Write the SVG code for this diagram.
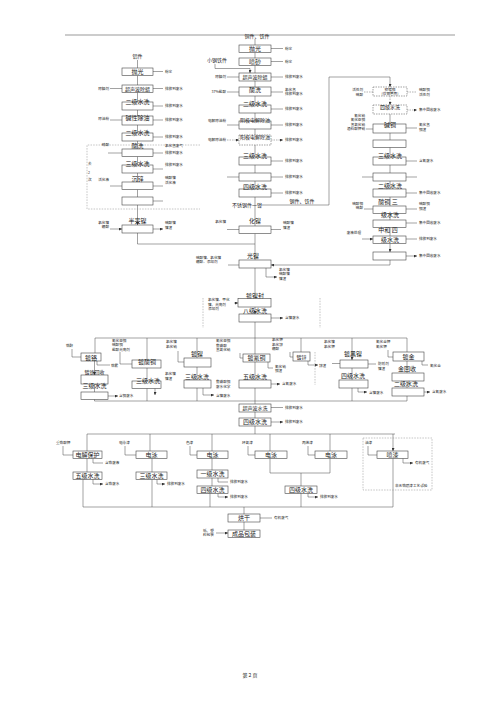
<svg xmlns="http://www.w3.org/2000/svg" width="500" height="707" viewBox="0 0 500 707">
<style>
.b{fill:#fff;stroke:#444;stroke-width:0.6}
.bd{fill:#fff;stroke:#666;stroke-width:0.6;stroke-dasharray:1.5 1}
.l{fill:none;stroke:#444;stroke-width:0.5}
.la{fill:none;stroke:#444;stroke-width:0.5;marker-end:url(#a)}
.da{fill:none;stroke:#666;stroke-width:0.5;stroke-dasharray:1.5 1;marker-end:url(#a)}
.dl{fill:none;stroke:#888;stroke-width:0.5;stroke-dasharray:1.5 1.2}
text{font-family:"Noto Sans CJK SC","Noto Sans",sans-serif;fill:#222}
.t{font-size:6px;text-anchor:middle}
.t5{font-size:5px;text-anchor:middle}
.s{font-size:3.6px}
.sr{font-size:3.6px;text-anchor:end}
</style>
<defs><marker id="a" viewBox="0 0 4 4" markerWidth="3" markerHeight="3" refX="4" refY="2" orient="auto" markerUnits="userSpaceOnUse"><path d="M0,0L4,2L0,4z" fill="#333"/></marker></defs>
<rect width="500" height="707" fill="#fff"/>
<line x1="65" y1="35" x2="455" y2="35" stroke="#999" stroke-width="1.2"/>

<g id="connectors">
<path class="la" d="M137.5,60V68M137.5,75.5V85M137.5,92.5V102M137.5,110V116M137.5,125V133M137.5,141V149M137.5,156.5V165M137.5,173V182M137.5,189.5V197M137.5,205V225"/>
<path class="l" d="M137.5,233V244H255"/>
<path class="la" d="M110,88.5H122M110,120H122M108,153H122M110,186H122M110,229H122"/>
<path class="la" d="M153,71.5H163M153,88.5H163M153,106H163M153,120H163M153,137H163M153,153H163M153,169H163M153,186H163M153,201H163M153,229H163"/>
<path class="la" d="M255,39V45M255,52.5V58M255,65.5V73M255,81V87M255,96V105M255,113V121M255,129V135M255,145V157M255,165V173M255,181V189M255,197V226M255,233.5V260M255,268V298M255,307V314"/>
<path class="l" d="M255,322V338"/>
<path class="la" d="M215,64V68.5H250V73"/>
<path class="la" d="M227,77H239M227,92H239M227,125H239M227,177H239M227,229.5H239M228,265H239M234,303H238"/>
<path class="da" d="M227,140H239"/>
<path class="la" d="M271,48.5H283M271,61.5H283M271,77H283M271,92H283M271,109H283M271,125H283M271,161H283M271,177H283M271,193H283M271,229.5H281M271,318H283"/>
<path class="da" d="M271,140H283"/>
<path class="la" d="M266,268V277H277"/>
<path class="la" d="M262,205H329V77H390V87"/>
<path class="la" d="M390,114V124M390,133V140M390,147V157M390,165V173M390,181V189M390,197V206M390,213V220M390,227V236M390,243V252"/>
<path class="da" d="M390,96V105"/>
<path class="la" d="M390,260V265H271"/>
<path class="da" d="M364,92H373M407,92H417M407,110H417"/>
<path class="la" d="M366,129H373M362,177H373M364,209H373M362,239H373"/>
<path class="la" d="M406,128H417M406,161H417M406,177H417M406,193H417M406,209H417M406,223H417M406,239H417M406,256H417"/>
<path class="l" d="M95,338H407"/>
<path class="la" d="M95,338V353M147,338V360M197,338V358M255,338V354M301,338V352M407,338V352M352,338V360"/>
<path class="la" d="M72,349V357H81M97,361V365H110M94.5,384V392M108,396H118"/>
<path class="la" d="M94.5,361V375"/>
<path class="la" d="M120,352V364H132M147,368V381M155,388V395"/>
<path class="la" d="M178,351V362H184M197,367V380M203,388V395H214"/>
<path class="la" d="M240,353V358H243M255,362V380M268,362V368H273M271,384H280"/>
<path class="la" d="M290,352V357H293M308,361V365H318"/>
<path class="la" d="M332,363.5H340M368,364H376M352,368V380M358,388V392H367"/>
<path class="la" d="M388,350V357H393M422,361V365H428M407,361V373M407,381V388M424,392H430"/>
<path class="l" d="M94.5,399V401M147,388V401M197,388V401M255,388V401M352,388V401M407,396V401M94.5,401H407"/>
<path class="dl" d="M203,298V328M320,298V328M315,352V385"/>
<path class="la" d="M255,401V404M255,412V418M271,407.5H283M271,422H283"/>
<path class="l" d="M255,426V434M87,434H395"/>
<path class="la" d="M87,434V451M150,434V451M212,434V451M270,434V451M330,434V451M393,434V451"/>
<path class="la" d="M63,446V455H73M93,458V463H103M87,458V472M93,479V484H103"/>
<path class="la" d="M125,446V455H136M152,458V472M157,479V484H165"/>
<path class="la" d="M190,446V455H197M212,458V470M218,478V482H228M212,478V486M218,493V497H228"/>
<path class="la" d="M248,446V455H255M308,446V455H315M301,473V486M308,493V497H318"/>
<path class="l" d="M270,458V473H330V458"/>
<path class="la" d="M368,446V455H377M403,458V463H413"/>
<path class="l" d="M83,479V507H393V458M152,479V507M210,493V507M301,493V507"/>
<path class="la" d="M244,507V514M260,518H272M244,522V530M216,533H228"/>
<path class="dl" d="M200,145H87V209H200"/>
<rect class="dl" x="363" y="438" width="69" height="52"/>
</g>

<g id="left-column">
<text class="t5" x="137.5" y="58">铝件</text>
<g id="a1"><rect class="b" x="122" y="68" width="31" height="7.5"/><text class="t" x="137.5" y="74">抛光</text></g>
<g id="a2"><rect class="b" x="122" y="85" width="31" height="7.5"/><text class="t5" x="137.5" y="91">超声波除蜡</text></g>
<g id="a3"><rect class="b" x="122" y="102" width="31" height="8"/><text class="t" x="137.5" y="104">二级水洗</text></g>
<g id="a4"><rect class="b" x="122" y="116" width="31" height="9"/><text class="t" x="137.5" y="120">碱性除油</text></g>
<g id="a5"><rect class="b" x="122" y="133" width="31" height="8"/><text class="t" x="137.5" y="135">二级水洗</text></g>
<g id="a6"><text class="t" x="137.5" y="148">酸洗</text><rect class="b" x="122" y="149" width="31" height="7.5"/></g>
<g id="a7"><rect class="b" x="122" y="165" width="31" height="8"/><text class="t" x="137.5" y="165.5">三级水洗</text></g>
<g id="a8"><rect class="b" x="122" y="182" width="31" height="7.5"/><text class="t" x="137.5" y="181">沉锌</text></g>
<g id="a9"><rect class="b" x="122" y="197" width="31" height="8"/></g>
<g id="a10"><text class="t" x="137.5" y="223">半亮镍</text><rect class="b" x="122" y="225" width="31" height="8"/></g>
<text class="s" x="88" y="165">去</text><text class="s" x="88" y="174">2</text><text class="s" x="88" y="181">次</text>
<text class="sr" x="109" y="89.5">除蜡剂</text>
<text class="sr" x="109" y="119.5">除油粉</text>
<text class="sr" x="109" y="146">硝酸</text>
<text class="sr" x="109" y="181">活化液</text>
<text class="sr" x="109" y="223.5">氯化镍</text><text class="sr" x="109" y="228">硼酸</text>
<text class="s" x="165" y="72.7">粉尘</text>
<text class="s" x="165" y="89.7">排放到废水</text>
<text class="s" x="165" y="107.2">排放到废水</text>
<text class="s" x="165" y="121.2">排放到废水</text>
<text class="s" x="165" y="138.2">排放到废水</text>
<text class="s" x="165" y="146.5">氯化氢废气</text>
<text class="s" x="165" y="154.2">排放到废水</text>
<text class="s" x="165" y="166">排放到废水</text>
<text class="s" x="165" y="179">硫酸镍</text><text class="s" x="165" y="184">活化液</text>
<text class="s" x="165" y="224">硫酸镍</text><text class="s" x="165" y="228.5">镍渣</text>
</g>

<g id="main-column">
<text class="t5" x="257" y="38">铜件、铁件</text>
<g id="m1"><rect class="b" x="239" y="45" width="32" height="7.5"/><text class="t" x="255" y="51">抛光</text></g>
<g id="m2"><rect class="b" x="239" y="58" width="32" height="7.5"/><text class="t" x="255" y="64">喷砂</text></g>
<text class="t5" x="217" y="62">小钢铁件</text>
<g id="m3"><rect class="b" x="239" y="73" width="32" height="8"/><text class="t5" x="255" y="79.3">超声波除蜡</text></g>
<g id="m4"><rect class="b" x="239" y="87" width="32" height="9"/><text class="t" x="255" y="91.5">酸洗</text></g>
<g id="m5"><rect class="b" x="239" y="105" width="32" height="8"/><text class="t" x="255" y="106">二级水洗</text></g>
<g id="m6"><rect class="b" x="239" y="121" width="32" height="8"/><text class="t5" x="255" y="122">阴极电解除油</text></g>
<g id="m7"><rect class="bd" x="239" y="135" width="32" height="10"/><text class="t5" x="255" y="138.5">阳极电解除油</text></g>
<g id="m8"><rect class="b" x="239" y="157" width="32" height="8"/><text class="t" x="255" y="157.5">三级水洗</text></g>
<g id="m9"><rect class="b" x="239" y="173" width="32" height="8"/></g>
<g id="m10"><rect class="b" x="239" y="189" width="32" height="8"/><text class="t" x="255" y="188.5">四级水洗</text></g>
<text class="t5" x="247" y="207">不锈钢件一镍</text>
<text class="t5" x="302" y="203">钢件、铁件</text>
<g id="m11"><text class="t" x="255" y="223">化镍</text><rect class="b" x="239" y="226" width="32" height="7.5"/></g>
<g id="m12"><text class="t" x="253" y="257.5">光镍</text><rect class="b" x="239" y="260" width="32" height="8"/></g>
<text class="sr" x="226" y="223">氯化镍</text>
<text class="s" x="196" y="258.5">硫酸镍、氯化镍</text><text class="s" x="196" y="263">硼酸、添加剂</text>
<text class="sr" x="226" y="78.2">除蜡剂</text>
<text class="sr" x="226" y="93.2">37%盐酸</text>
<text class="sr" x="226" y="122">电解除油粉</text>
<text class="sr" x="226" y="141.2">电解除油粉</text>
<text class="s" x="285" y="49.7">粉尘</text>
<text class="s" x="285" y="62.7">粉尘</text>
<text class="s" x="285" y="78.2">排放到废水</text>
<text class="s" x="285" y="90.5">氯化氢</text><text class="s" x="285" y="95">排放到废水</text>
<text class="s" x="285" y="110.2">排放到废水</text>
<text class="s" x="285" y="126.2">排放到废水</text>
<text class="s" x="285" y="141.2">排放到废水</text>
<text class="s" x="285" y="162.2">排放到废水</text>
<text class="s" x="285" y="178.2">排放到废水</text>
<text class="s" x="285" y="194.2">排放到废水</text>
<text class="s" x="283" y="224">硫酸镍</text><text class="s" x="283" y="228.5">镍渣</text>
<text class="s" x="279" y="270.5">氯化镍</text><text class="s" x="279" y="275">硫酸镍</text><text class="s" x="279" y="279.5">镍渣</text>
<g id="m13"><text class="t" x="255" y="298">镀镍封</text><rect class="b" x="238" y="298.5" width="33" height="8.5"/></g>
<g id="m14"><text class="t" x="255" y="312.5">八级水洗</text><rect class="b" x="239" y="314" width="32" height="8"/></g>
<text class="s" x="208" y="301">氯化镍、甲化</text><text class="s" x="208" y="305.5">镍、光亮剂</text><text class="s" x="208" y="310">添加剂</text>
<text class="s" x="285" y="319.2">含镍废水</text>
</g>

<g id="right-column">
<g id="r1"><rect class="bd" x="373" y="87" width="34" height="9"/><text class="s" x="390" y="91" text-anchor="middle">预镀铜</text><text class="s" x="390" y="95.3" text-anchor="middle">(仅钢管用)</text></g>
<g id="r2"><rect class="bd" x="373" y="105" width="34" height="9"/><text class="t5" x="390" y="109">四级水洗</text></g>
<g id="r3"><rect class="b" x="373" y="124" width="33" height="9"/><text class="t" x="390" y="127">碱铜</text></g>
<g id="r4"><rect class="b" x="373" y="140" width="33" height="7.5"/></g>
<g id="r5"><rect class="b" x="373" y="157" width="33" height="8"/><text class="t" x="390" y="157.5">三级水洗</text></g>
<g id="r6"><rect class="b" x="373" y="173" width="33" height="8"/></g>
<g id="r7"><rect class="b" x="373" y="189" width="33" height="8"/><text class="t" x="390" y="188">二级水洗</text></g>
<g id="r8"><rect class="b" x="373" y="206" width="33" height="7.5"/><text class="t" x="388" y="204">酸铜 三</text></g>
<g id="r9"><rect class="b" x="373" y="220" width="33" height="7.5"/><text class="t" x="390" y="217">级水洗</text></g>
<g id="r10"><rect class="b" x="373" y="236" width="33" height="7.5"/><text class="t" x="388" y="232">中和 四</text></g>
<g id="r11"><rect class="b" x="373" y="252" width="33" height="8"/><text class="t" x="390" y="242">级水洗</text></g>
<text class="sr" x="363" y="91">活性剂</text><text class="sr" x="363" y="96">硫酸</text>
<text class="sr" x="365" y="116.5">氰化钠</text><text class="sr" x="365" y="121">氰化亚铜</text><text class="sr" x="365" y="125.5">氢氧化钠</text><text class="sr" x="365" y="130">酒石酸钾钠</text>
<text class="sr" x="363" y="204.5">硫酸铜</text><text class="sr" x="363" y="209">硫酸</text>
<text class="sr" x="361" y="234">废液处理</text>
<text class="s" x="419" y="90.5">硫酸铜</text><text class="s" x="419" y="95.5">活性剂</text>
<text class="s" x="419" y="111.2">集中回收废水</text>
<text class="s" x="419" y="126">氰化氢</text><text class="s" x="419" y="130.5">铜渣</text>
<text class="s" x="419" y="162.2">含氰废水</text>
<text class="s" x="419" y="194.2">集中回收废水</text>
<text class="s" x="419" y="205">硫酸铜</text><text class="s" x="419" y="210">铜渣</text>
<text class="s" x="419" y="224.2">集中回收废水</text>
<text class="s" x="419" y="240.2">排放到废水</text>
<text class="s" x="419" y="257.2">集中回收废水</text>
</g>

<g id="plating-row">
<g id="p1"><rect class="b" x="81" y="353" width="20" height="8"/><text class="t" x="91" y="359.5">镀铬</text></g>
<text class="s" x="66" y="347">铬酐</text>
<text class="s" x="111" y="366.5">铬雾</text>
<g id="p1b"><text class="t5" x="94.5" y="373.5">镀铬回收</text><rect class="b" x="81" y="375" width="27" height="9"/></g>
<g id="p1c"><text class="t" x="94.5" y="388">三级水洗</text><rect class="b" x="81" y="392" width="27" height="7.5"/></g>
<g id="p2"><text class="t" x="147" y="364">镀酸铜</text><rect class="b" x="132" y="360" width="29" height="8" fill-opacity="0"/></g>
<g id="p2b"><rect class="b" x="132" y="381" width="29" height="7.5"/><text class="t" x="148" y="383">三级水洗</text></g>
<text class="s" x="112" y="342">氰化亚铜</text><text class="s" x="112" y="346">硫酸铜</text><text class="s" x="112" y="350.5">盐酸光亮剂</text>
<text class="s" x="119" y="397">含铜废水</text>
<g id="p3"><text class="t" x="197" y="356">镀镍</text><rect class="b" x="184" y="358" width="27" height="9"/></g>
<g id="p3b"><text class="t" x="197" y="378.5">三级水洗</text><rect class="b" x="184" y="380" width="27" height="8"/></g>
<text class="s" x="166" y="343">氯化镍</text><text class="s" x="166" y="348">氯化钠</text>
<text class="s" x="165" y="375">氯化镍</text><text class="s" x="165" y="380">镍渣</text>
<text class="s" x="216" y="383">焦磷酸铜</text><text class="s" x="216" y="387.5">废水化学</text><text class="s" x="216" y="396.5">含镍废水</text>
<g id="p4"><rect class="b" x="243" y="354" width="27" height="8"/><text class="t" x="256.5" y="360.3">镀氰铜</text></g>
<text class="s" x="216" y="342">氰化亚铜</text><text class="s" x="216" y="346.5">焦磷酸</text><text class="s" x="216" y="351">氢氧化钠</text>
<text class="s" x="275" y="367.5">氰化钠</text><text class="s" x="275" y="372">铜渣</text>
<g id="p4b"><text class="t" x="255" y="378.5">五级水洗</text><rect class="b" x="239" y="380" width="32" height="8"/></g>
<text class="s" x="282" y="385.2">含氰废水</text>
<g id="p5"><rect class="b" x="293" y="352" width="17" height="9"/><text class="t5" x="301.5" y="358.5">镀锌</text></g>
<text class="s" x="272" y="341">氯化钾</text><text class="s" x="272" y="345.5">氯化锌</text><text class="s" x="272" y="350">硼酸</text>
<text class="s" x="319" y="366.5">锌渣</text>
<g id="p6"><text class="t" x="353" y="356">镀黑镍</text><rect class="b" x="340" y="360" width="28" height="8"/></g>
<text class="s" x="324" y="343">氯化镍</text><text class="s" x="324" y="348">氯化钾</text>
<text class="s" x="378" y="365">防锈剂</text><text class="s" x="378" y="370">镍渣</text>
<g id="p6b"><text class="t" x="353" y="378">四级水洗</text><rect class="b" x="339" y="380" width="29" height="8"/></g>
<text class="s" x="369" y="393.5">含镍废水</text>
<g id="p7"><rect class="b" x="393" y="352" width="31" height="9"/><text class="t" x="408.5" y="358.8">镀金</text></g>
<text class="s" x="376" y="343">氰化金钾</text><text class="s" x="376" y="348">氰化钾</text>
<text class="s" x="430" y="366.5">氰化金</text>
<g id="p7b"><text class="t" x="407" y="371">金回收</text><rect class="b" x="392" y="373" width="32" height="8"/></g>
<g id="p7c"><text class="t" x="406" y="385.5">二级水洗</text><rect class="b" x="392" y="388" width="32" height="8"/></g>
<text class="s" x="432" y="393.2">含氰废水</text>
</g>

<g id="finish-part">
<g id="f1"><rect class="b" x="239" y="404" width="32" height="8"/><text class="t5" x="255" y="410">超声波水洗</text></g>
<g id="f2"><rect class="b" x="239" y="418" width="32" height="8"/><text class="t" x="255" y="424.3">四级水洗</text></g>
<text class="s" x="285" y="408.7">排放到废水</text>
<text class="s" x="285" y="423.2">排放到废水</text>
<g id="f3"><rect class="b" x="73" y="451" width="29" height="7.5"/><text class="t" x="87.5" y="457.2">电解保护</text></g>
<g id="f4"><rect class="b" x="73" y="472" width="29" height="7.5"/><text class="t" x="87.5" y="478.2">五级水洗</text></g>
<text class="s" x="56" y="444">重铬酸钾</text>
<text class="s" x="105" y="464.2">含铬废液</text>
<text class="s" x="105" y="485.2">含铬废水</text>
<g id="f5"><rect class="b" x="136" y="451" width="31" height="7.5"/><text class="t" x="151.5" y="457.2">电泳</text></g>
<g id="f6"><rect class="b" x="136" y="472" width="31" height="7.5"/><text class="t" x="151.5" y="478.2">三级水洗</text></g>
<text class="s" x="119" y="444">电泳漆</text>
<text class="s" x="167" y="485.2">排放到废水</text>
<g id="f7"><rect class="b" x="197" y="451" width="31" height="7.5"/><text class="t" x="212.5" y="457.2">电泳</text></g>
<g id="f8"><rect class="b" x="197" y="470" width="31" height="8"/><text class="t" x="212.5" y="476.3">一级水洗</text></g>
<g id="f9"><rect class="b" x="197" y="486" width="31" height="7.5"/><text class="t" x="212.5" y="492.2">四级水洗</text></g>
<text class="s" x="186" y="444">色漆</text>
<text class="s" x="230" y="483.2">排放到废水</text>
<text class="s" x="230" y="498.2">排放到废水</text>
<g id="f10"><rect class="b" x="255" y="451" width="32" height="7.5"/><text class="t" x="271" y="457.2">电泳</text></g>
<text class="s" x="242" y="444">环氧漆</text>
<g id="f11"><rect class="b" x="315" y="451" width="32" height="7.5"/><text class="t" x="331" y="457.2">电泳</text></g>
<text class="s" x="302" y="444">丙烯漆</text>
<g id="f12"><rect class="b" x="285" y="486" width="32" height="7.5"/><text class="t" x="301" y="492.2">四级水洗</text></g>
<text class="s" x="320" y="498.2">排放到废水</text>
<g id="f13"><rect class="b" x="377" y="451" width="31" height="7.5"/><text class="t" x="392.5" y="457.2">喷漆</text></g>
<text class="s" x="365" y="444">油漆</text>
<text class="s" x="415" y="464.2">有机废气</text>
<text class="s" x="395" y="486.5">非无铬喷漆工艺试验</text>
<g id="f14"><rect class="b" x="228" y="514" width="32" height="8"/><text class="t" x="244" y="520.3">烘干</text></g>
<text class="s" x="274" y="519.2">有机废气</text>
<g id="f15"><rect class="b" x="228" y="530" width="32" height="7.5"/><text class="t" x="244" y="536.2">成品包装</text></g>
<text class="s" x="203" y="531.5">纸、塑</text><text class="s" x="203" y="536">料包装</text>
</g>
<text x="250" y="677" font-size="5" text-anchor="middle" font-family="Liberation Serif, Noto Sans CJK SC, serif">第 2 页</text>
</svg>
